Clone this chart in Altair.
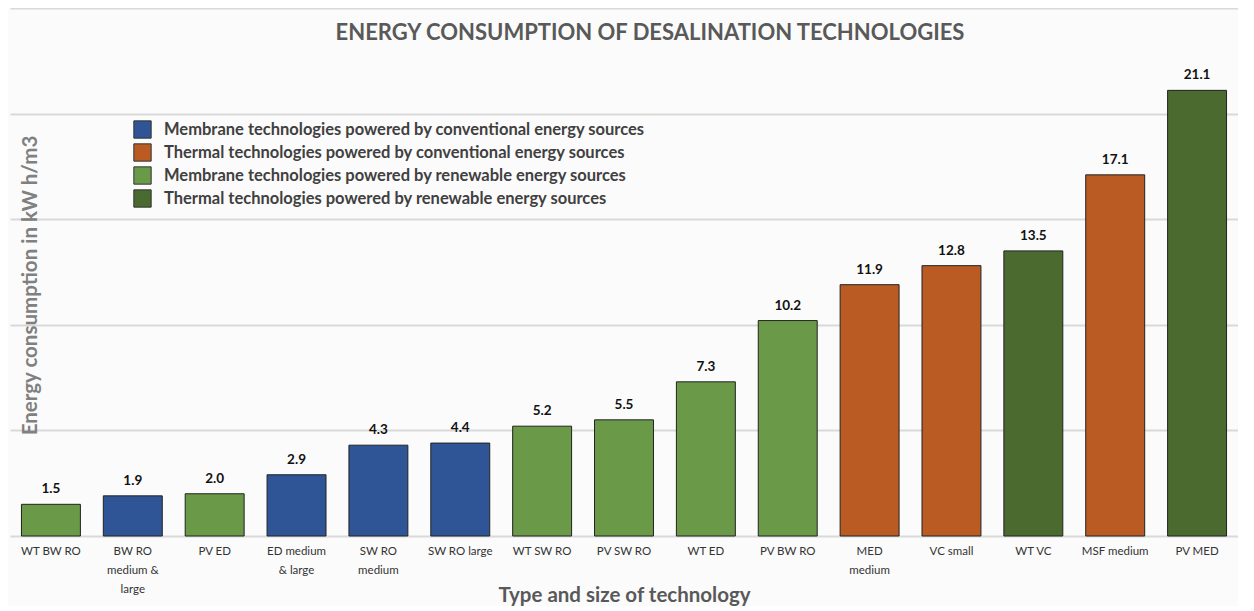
import altair as alt
import pandas as pd

TITLE = "ENERGY CONSUMPTION OF DESALINATION TECHNOLOGIES"
technologies = ["WT BW RO", "BW RO|medium &|large", "PV ED", "ED medium|& large", "SW RO|medium",
                "SW RO large", "WT SW RO", "PV SW RO", "WT ED", "PV BW RO",
                "MED|medium", "VC small", "WT VC", "MSF medium", "PV MED"]
consumption = [1.5, 1.9, 2.0, 2.9, 4.3, 4.4, 5.2, 5.5, 7.3, 10.2, 11.9, 12.8, 13.5, 17.1, 21.1]
groups_short = ["MR", "MC", "MR", "MC", "MC", "MC", "MR", "MR", "MR", "MR",
                "TC", "TC", "TR", "TC", "TR"]
group_names = {
    "MC": "Membrane technologies powered by conventional energy sources",
    "TC": "Thermal technologies powered by conventional energy sources",
    "MR": "Membrane technologies powered by renewable energy sources",
    "TR": "Thermal technologies powered by renewable energy sources",
}
legend_order = [group_names[k] for k in ["MC", "TC", "MR", "TR"]]
colors = ["#2F5597", "#BA5B24", "#6A9A48", "#4B6A30"]

df = pd.DataFrame({
    "tech": technologies,
    "value": consumption,
    "group": [group_names[g] for g in groups_short],
})
df["label"] = df["value"].map(lambda v: f"{v:.1f}")

FONT = "Lato"
W, H = 1228, 528
yscale = alt.Scale(domain=[0, 25], nice=False)

x = alt.X("tech:N", sort=technologies,
          scale=alt.Scale(paddingInner=0.28, paddingOuter=0.14),
          axis=alt.Axis(title="Type and size of technology", labelAngle=0,
                        labelExpr="split(datum.label, '|')",
                        labelFontSize=11.5, labelColor="#333333", labelFont=FONT,
                        labelLineHeight=19, labelPadding=9,
                        ticks=False, domain=False,
                        titleFontSize=20.5, titleFont=FONT, titleFontWeight="bold",
                        titleColor="#595959", titleY=59, titleBaseline="middle"))
y = alt.Y("value:Q", scale=yscale,
          axis=alt.Axis(title="Energy consumption in kW h/m3", values=[0, 5, 10, 15, 20, 25],
                        labels=False, ticks=False, domain=False,
                        grid=True, gridColor="#d9d9d9", gridWidth=2,
                        titleFontSize=20.5, titleFont=FONT, titleFontWeight="bold",
                        titleColor="#808080", titleAngle=270, titleX=20, titleY=277,
                        titleAlign="center", titleBaseline="middle"))

bars = alt.Chart(df).mark_bar(stroke="#222222", strokeWidth=1).encode(
    x=x, y=y,
    color=alt.Color("group:N", scale=alt.Scale(domain=legend_order, range=colors),
                    legend=alt.Legend(title=None, orient="none", legendX=123, legendY=112,
                                      symbolType="square", symbolSize=300,
                                      symbolStrokeColor="#333333", symbolStrokeWidth=1,
                                      labelFontSize=16.5, labelFont=FONT, labelFontWeight="bold",
                                      labelColor="#404040", labelOffset=12, rowPadding=0,
                                      labelLimit=700)),
)

texts = alt.Chart(df).mark_text(baseline="bottom", dy=-8, fontSize=13.5, fontWeight="bold",
                                font=FONT, color="#111111").encode(
    x=alt.X("tech:N", sort=technologies), y=alt.Y("value:Q", scale=yscale), text="label:N")

title_df = pd.DataFrame({"t": [TITLE]})
title_mark = alt.Chart(title_df).mark_text(fontSize=22, font=FONT, fontWeight="bold",
                                           color="#595959", baseline="middle", align="center").encode(
    text="t:N", x=alt.value(640), y=alt.value(25))

chart = alt.layer(bars, texts, title_mark).properties(
    width=W, height=H,
    padding={"left": 2, "top": 0, "right": 0, "bottom": 0},
    background="#fbfbfb",
).configure_view(stroke=None)

chart.save("out.html", embed_options={"renderer": "svg", "actions": False})
